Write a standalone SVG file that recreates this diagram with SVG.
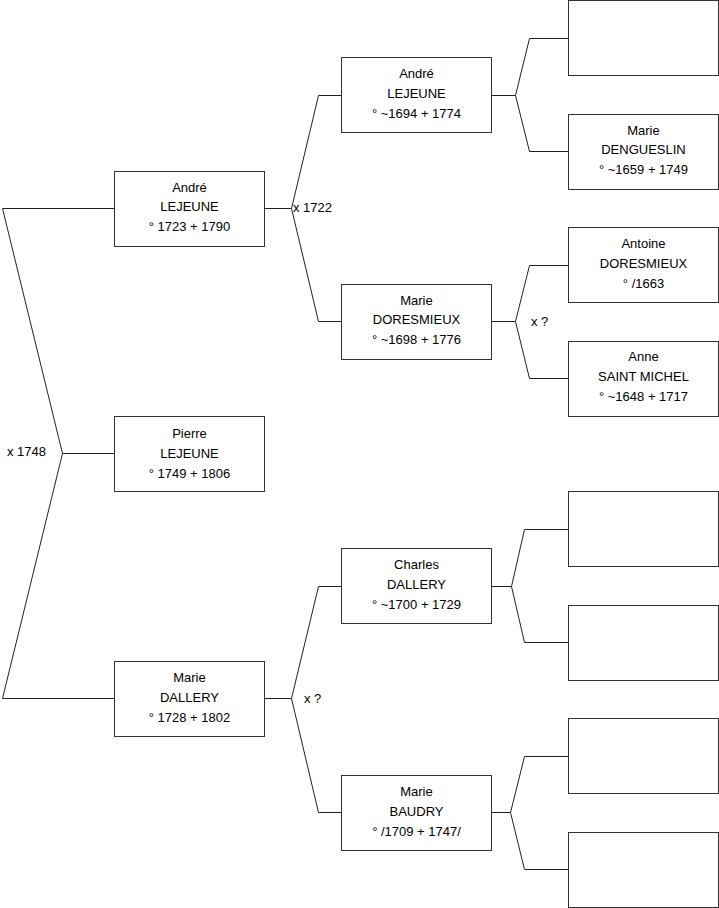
<svg xmlns="http://www.w3.org/2000/svg" width="719" height="908" viewBox="0 0 719 908">
<style>
.box{fill:#fff;stroke:#333;stroke-width:1}
.ln{fill:none;stroke:#222;stroke-width:1}
text{font-family:"Liberation Sans",Arial,sans-serif;font-size:13px;fill:#000}
.c{text-anchor:middle}
</style>
<rect width="719" height="908" fill="#fff"/>
<g id="connectors" class="ln">
<path d="M114.5,208.5 H2.5 L62.5,453.5 L2.5,698.5 H114.5 M62.5,453.5 H114.5"/>
<path d="M264.5,208.5 H291.5 M341.5,95.5 H318.5 L291.5,208.5 L318.5,321.5 H341.5"/>
<path d="M264.5,698.5 H291.5 M341.5,586.5 H318.5 L291.5,698.5 L318.5,812.5 H341.5"/>
<path d="M491.5,95.5 H515.5 M568.5,38.5 H529.5 L515.5,95.5 L529.5,151.5 H568.5"/>
<path d="M491.5,321.5 H515.5 M568.5,265.5 H529.5 L515.5,321.5 L529.5,378.5 H568.5"/>
<path d="M491.5,586.5 H511.5 M568.5,529.5 H524.5 L511.5,586.5 L524.5,642.5 H568.5"/>
<path d="M491.5,812.5 H510.5 M568.5,756.5 H524.5 L510.5,812.5 L524.5,869.5 H568.5"/>
</g>
<g id="labels">
<text x="7" y="456">x 1748</text>
<text x="293" y="212">x 1722</text>
<text x="531" y="326">x ?</text>
<text x="304" y="703">x ?</text>
</g>
<g id="pierre"><rect class="box" x="114.5" y="416.5" width="150" height="75"/>
<text class="c" x="189.5" y="438">Pierre</text><text class="c" x="189.5" y="458">LEJEUNE</text><text class="c" x="189.5" y="478">° 1749 + 1806</text></g>
<g id="andre1723"><rect class="box" x="114.5" y="171.5" width="150" height="75"/>
<text class="c" x="189.5" y="192">André</text><text class="c" x="189.5" y="211">LEJEUNE</text><text class="c" x="189.5" y="231">° 1723 + 1790</text></g>
<g id="marie1728"><rect class="box" x="114.5" y="661.5" width="150" height="75"/>
<text class="c" x="189.5" y="682">Marie</text><text class="c" x="189.5" y="702">DALLERY</text><text class="c" x="189.5" y="722">° 1728 + 1802</text></g>
<g id="andre1694"><rect class="box" x="341.5" y="57.5" width="150" height="75"/>
<text class="c" x="416.5" y="78">André</text><text class="c" x="416.5" y="98">LEJEUNE</text><text class="c" x="416.5" y="118">° ~1694 + 1774</text></g>
<g id="marie1698"><rect class="box" x="341.5" y="284.5" width="150" height="75"/>
<text class="c" x="416.5" y="305">Marie</text><text class="c" x="416.5" y="324">DORESMIEUX</text><text class="c" x="416.5" y="344">° ~1698 + 1776</text></g>
<g id="charles"><rect class="box" x="341.5" y="548.5" width="150" height="75"/>
<text class="c" x="416.5" y="569">Charles</text><text class="c" x="416.5" y="589">DALLERY</text><text class="c" x="416.5" y="609">° ~1700 + 1729</text></g>
<g id="marie1709"><rect class="box" x="341.5" y="775.5" width="150" height="75"/>
<text class="c" x="416.5" y="796">Marie</text><text class="c" x="416.5" y="816">BAUDRY</text><text class="c" x="416.5" y="836">° /1709 + 1747/</text></g>
<g id="unk1"><rect class="box" x="568.5" y="0.5" width="150" height="75"/></g>
<g id="marie1659"><rect class="box" x="568.5" y="114.5" width="150" height="75"/>
<text class="c" x="643.5" y="135">Marie</text><text class="c" x="643.5" y="154">DENGUESLIN</text><text class="c" x="643.5" y="174">° ~1659 + 1749</text></g>
<g id="antoine"><rect class="box" x="568.5" y="227.5" width="150" height="75"/>
<text class="c" x="643.5" y="248">Antoine</text><text class="c" x="643.5" y="268">DORESMIEUX</text><text class="c" x="643.5" y="288">° /1663</text></g>
<g id="anne"><rect class="box" x="568.5" y="341.5" width="150" height="75"/>
<text class="c" x="643.5" y="361">Anne</text><text class="c" x="643.5" y="381">SAINT MICHEL</text><text class="c" x="643.5" y="401">° ~1648 + 1717</text></g>
<g id="unk2"><rect class="box" x="568.5" y="491.5" width="150" height="75"/></g>
<g id="unk3"><rect class="box" x="568.5" y="605.5" width="150" height="75"/></g>
<g id="unk4"><rect class="box" x="568.5" y="718.5" width="150" height="75"/></g>
<g id="unk5"><rect class="box" x="568.5" y="832.5" width="150" height="75"/></g>
</svg>
